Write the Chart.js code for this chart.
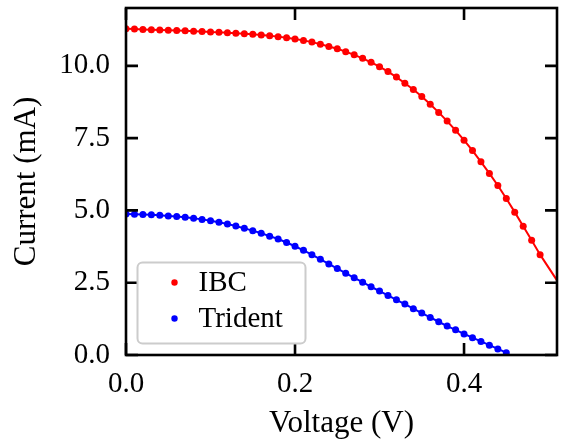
<!DOCTYPE html>
<html>
<head>
<meta charset="utf-8">
<title>I-V curves</title>
<script src="https://cdn.jsdelivr.net/npm/chart.js@4.4.1/dist/chart.umd.min.js"></script>
<style>
  html, body { margin: 0; padding: 0; background: #ffffff; }
  #wrap { width: 561px; height: 441px; }
</style>
</head>
<body>
<div id="wrap"><canvas id="ivChart" width="561" height="441"></canvas></div>
<script>
// Measured bias points (V)
const voltage = [
  0.00, 0.01, 0.02, 0.03, 0.04, 0.05, 0.06, 0.07, 0.08, 0.09,
  0.10, 0.11, 0.12, 0.13, 0.14, 0.15, 0.16, 0.17, 0.18, 0.19,
  0.20, 0.21, 0.22, 0.23, 0.24, 0.25, 0.26, 0.27, 0.28, 0.29,
  0.30, 0.31, 0.32, 0.33, 0.34, 0.35, 0.36, 0.37, 0.38, 0.39,
  0.40, 0.41, 0.42, 0.43, 0.44, 0.45, 0.46, 0.47, 0.48, 0.49
];

// IBC cell current (mA), one value per voltage
const ibcCurrent = [
  11.28, 11.27, 11.26, 11.25, 11.24, 11.23, 11.22, 11.21, 11.20, 11.19,
  11.17, 11.16, 11.14, 11.13, 11.11, 11.09, 11.07, 11.04, 11.01, 10.97,
  10.93, 10.88, 10.82, 10.75, 10.67, 10.59, 10.49, 10.38, 10.26, 10.12,
  9.97, 9.80, 9.61, 9.40, 9.18, 8.94, 8.67, 8.39, 8.09, 7.77,
  7.43, 7.07, 6.68, 6.28, 5.86, 5.41, 4.94, 4.45, 3.97, 3.47
];

// fitted IBC curve continues past the last measured point to the axis edge
const ibcFitEnd = { v: 0.51, i: 2.58 };

// Trident cell current (mA), voltage[0..45]
const tridentCurrent = [
  4.88, 4.87, 4.86, 4.85, 4.83, 4.81, 4.79, 4.76, 4.73, 4.69,
  4.64, 4.59, 4.53, 4.46, 4.38, 4.30, 4.21, 4.11, 4.01, 3.89,
  3.76, 3.62, 3.47, 3.31, 3.15, 2.99, 2.83, 2.67, 2.52, 2.36,
  2.21, 2.06, 1.91, 1.76, 1.60, 1.45, 1.30, 1.15, 1.00, 0.87,
  0.73, 0.60, 0.47, 0.34, 0.21, 0.08
];

const xTicks = [0.0, 0.2, 0.4];
const yTicks = [0.0, 2.5, 5.0, 7.5, 10.0];

const SERIF = "'Liberation Serif', 'Times New Roman', serif";

function toPoints(vs, is) {
  return is.map(function(cur, k) { return { x: vs[k], y: cur }; });
}

// box frame with inward ticks on every side, plus a legend in the lower-left corner
const frameLegendPlugin = {
  id: 'frame_legend',

  afterDraw: function(chart) {
    const ctx = chart.ctx;
    const area = chart.chartArea;
    const xs = chart.scales.x;
    const ys = chart.scales.y;
    const tickLen = 12;

    ctx.save();
    ctx.strokeStyle = '#000000';
    ctx.lineWidth = 2.6;
    ctx.beginPath();
    xTicks.forEach(function(v) {
      const px = xs.getPixelForValue(v);
      ctx.moveTo(px, area.bottom);
      ctx.lineTo(px, area.bottom - tickLen);
      ctx.moveTo(px, area.top);
      ctx.lineTo(px, area.top + tickLen);
    });
    yTicks.forEach(function(v) {
      const py = ys.getPixelForValue(v);
      ctx.moveTo(area.left, py);
      ctx.lineTo(area.left + tickLen, py);
      ctx.moveTo(area.right, py);
      ctx.lineTo(area.right - tickLen, py);
    });
    ctx.stroke();
    ctx.lineJoin = 'miter';
    ctx.strokeRect(area.left, area.top, area.right - area.left, area.bottom - area.top);

    // legend
    const items = chart.data.datasets.filter(function(d) { return !d.isFit; });
    const boxW = 168, boxH = 81, r = 5;
    const bx = area.left + 11.5;
    const by = area.bottom - 11.5 - boxH;
    ctx.beginPath();
    ctx.moveTo(bx + r, by);
    ctx.lineTo(bx + boxW - r, by);
    ctx.arcTo(bx + boxW, by, bx + boxW, by + r, r);
    ctx.lineTo(bx + boxW, by + boxH - r);
    ctx.arcTo(bx + boxW, by + boxH, bx + boxW - r, by + boxH, r);
    ctx.lineTo(bx + r, by + boxH);
    ctx.arcTo(bx, by + boxH, bx, by + boxH - r, r);
    ctx.lineTo(bx, by + r);
    ctx.arcTo(bx, by, bx + r, by, r);
    ctx.closePath();
    ctx.fillStyle = 'rgba(255, 255, 255, 0.9)';
    ctx.fill();
    ctx.strokeStyle = '#cccccc';
    ctx.lineWidth = 2;
    ctx.stroke();

    ctx.font = '29px ' + SERIF;
    ctx.textBaseline = 'middle';
    ctx.textAlign = 'left';
    items.forEach(function(d, k) {
      const cy = by + 20 + k * 36;
      ctx.beginPath();
      ctx.fillStyle = d.backgroundColor;
      ctx.arc(bx + 37, cy, 3.2, 0, Math.PI * 2);
      ctx.fill();
      ctx.fillStyle = '#000000';
      ctx.fillText(d.label, bx + 61, cy + 1);
    });
    ctx.restore();
  }
};

function initChart() {
  Chart.defaults.font.family = SERIF;
  Chart.defaults.color = '#000000';

  const ctx = document.getElementById('ivChart');
  const ibcPoints = toPoints(voltage, ibcCurrent);
  const tridentPoints = toPoints(voltage, tridentCurrent);

  return new Chart(ctx, {
    type: 'scatter',
    data: {
      datasets: [{
        label: 'IBC fit',
        isFit: true,
        data: ibcPoints.concat([{ x: ibcFitEnd.v, y: ibcFitEnd.i }]),
        showLine: true,
        borderColor: '#ff0000',
        borderWidth: 2,
        pointRadius: 0,
        tension: 0
      }, {
        label: 'Trident fit',
        isFit: true,
        data: tridentPoints,
        showLine: true,
        borderColor: '#0000ff',
        borderWidth: 2,
        pointRadius: 0,
        tension: 0
      }, {
        label: 'IBC',
        data: ibcPoints,
        backgroundColor: '#ff0000',
        pointRadius: 3.5,
        pointBorderWidth: 0
      }, {
        label: 'Trident',
        data: tridentPoints,
        backgroundColor: '#0000ff',
        pointRadius: 3.5,
        pointBorderWidth: 0
      }]
    },
    options: {
      responsive: false,
      animation: false,
      devicePixelRatio: 1,
      layout: {
        padding: { left: 0, right: 4, top: 8, bottom: 0 }
      },
      scales: {
        x: {
          type: 'linear',
          min: 0,
          max: 0.51,
          grid: { display: false, drawTicks: false },
          border: { display: false },
          afterBuildTicks: function(scale) {
            scale.ticks = xTicks.map(function(v) { return { value: v }; });
          },
          afterFit: function(scale) {
            scale.height = 86;
            scale.paddingLeft = 0;
            scale.paddingRight = 0;
          },
          ticks: {
            padding: 12,
            font: { size: 29 },
            callback: function(v) { return v.toFixed(1); }
          },
          title: {
            display: true,
            text: 'Voltage (V)',
            font: { size: 31, lineHeight: 1 },
            padding: { top: 0, bottom: 2 }
          }
        },
        y: {
          type: 'linear',
          min: 0,
          max: 12,
          grid: { display: false, drawTicks: false },
          border: { display: false },
          afterBuildTicks: function(scale) {
            scale.ticks = yTicks.map(function(v) { return { value: v }; });
          },
          afterFit: function(scale) {
            scale.width = 126;
            scale.paddingTop = 0;
            scale.paddingBottom = 0;
          },
          ticks: {
            padding: 16,
            font: { size: 29 },
            callback: function(v) { return v.toFixed(1); }
          },
          title: {
            display: true,
            text: 'Current (mA)',
            font: { size: 31, lineHeight: 1 },
            padding: { top: 11, bottom: 0 }
          }
        }
      },
      plugins: {
        legend: { display: false },
        tooltip: { enabled: false }
      }
    },
    plugins: [frameLegendPlugin]
  });
}

g_chart = initChart();
</script>
</body>
</html>
